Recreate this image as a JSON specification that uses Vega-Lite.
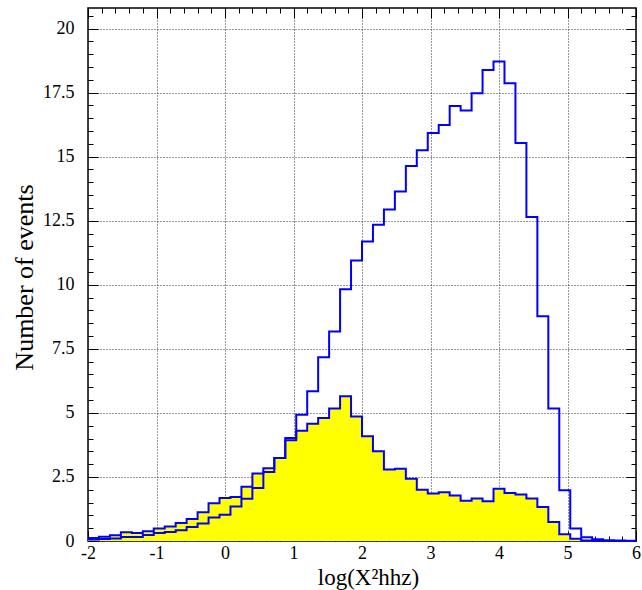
{
  "$schema": "https://vega.github.io/schema/vega-lite/v6.json",
  "width": 548,
  "height": 533,
  "autosize": "none",
  "padding": {"left": 88, "top": 8, "right": 6, "bottom": 49},
  "background": "white",
  "config": {
    "view": {"stroke": "black", "strokeWidth": 1.5},
    "font": "Liberation Serif",
    "axis": {"domain": false, "labelFont": "Liberation Serif", "titleFont": "Liberation Serif", "labelColor": "black", "titleColor": "black", "tickColor": "black", "titleFontWeight": "normal", "labelFlush": false, "labelOverlap": false, "labelBound": false}
  },
  "data": {
    "values": [
      {"x": -2.0, "A": 0.06, "B": 0.12},
      {"x": -1.84, "A": 0.08, "B": 0.17},
      {"x": -1.68, "A": 0.10, "B": 0.22},
      {"x": -1.52, "A": 0.16, "B": 0.34},
      {"x": -1.36, "A": 0.16, "B": 0.31},
      {"x": -1.2, "A": 0.23, "B": 0.38},
      {"x": -1.04, "A": 0.31, "B": 0.49},
      {"x": -0.88, "A": 0.35, "B": 0.57},
      {"x": -0.72, "A": 0.42, "B": 0.70},
      {"x": -0.56, "A": 0.55, "B": 0.86},
      {"x": -0.4, "A": 0.68, "B": 1.12},
      {"x": -0.24, "A": 0.92, "B": 1.47},
      {"x": -0.08, "A": 1.02, "B": 1.68},
      {"x": 0.08, "A": 1.35, "B": 1.72},
      {"x": 0.24, "A": 1.65, "B": 2.12},
      {"x": 0.4, "A": 2.07, "B": 2.63},
      {"x": 0.56, "A": 2.69, "B": 2.84},
      {"x": 0.72, "A": 3.24, "B": 3.24},
      {"x": 0.88, "A": 3.93, "B": 4.02},
      {"x": 1.04, "A": 4.93, "B": 4.30},
      {"x": 1.2, "A": 5.84, "B": 4.58},
      {"x": 1.36, "A": 7.17, "B": 4.80},
      {"x": 1.52, "A": 8.18, "B": 5.17},
      {"x": 1.68, "A": 9.82, "B": 5.65},
      {"x": 1.84, "A": 10.95, "B": 4.86},
      {"x": 2.0, "A": 11.69, "B": 4.09},
      {"x": 2.16, "A": 12.34, "B": 3.50},
      {"x": 2.32, "A": 12.94, "B": 2.79},
      {"x": 2.48, "A": 13.64, "B": 2.82},
      {"x": 2.64, "A": 14.63, "B": 2.43},
      {"x": 2.8, "A": 15.25, "B": 2.00},
      {"x": 2.96, "A": 15.92, "B": 1.85},
      {"x": 3.12, "A": 16.23, "B": 1.90},
      {"x": 3.28, "A": 16.98, "B": 1.78},
      {"x": 3.44, "A": 16.80, "B": 1.57},
      {"x": 3.6, "A": 17.47, "B": 1.66},
      {"x": 3.76, "A": 18.38, "B": 1.55},
      {"x": 3.92, "A": 18.71, "B": 2.04},
      {"x": 4.08, "A": 17.86, "B": 1.87},
      {"x": 4.24, "A": 15.53, "B": 1.81},
      {"x": 4.4, "A": 12.64, "B": 1.66},
      {"x": 4.56, "A": 8.77, "B": 1.33},
      {"x": 4.72, "A": 5.17, "B": 0.74},
      {"x": 4.88, "A": 1.98, "B": 0.26},
      {"x": 5.04, "A": 0.49, "B": 0.09},
      {"x": 5.2, "A": 0.15, "B": 0.02},
      {"x": 5.36, "A": 0.07, "B": 0.01},
      {"x": 5.52, "A": 0.03, "B": 0.0},
      {"x": 5.68, "A": 0.02, "B": 0.0},
      {"x": 5.84, "A": 0.01, "B": 0.0},
      {"x": 6.0, "A": 0.01, "B": 0.0}
    ]
  },
  "layer": [
    {
      "mark": {"type": "area", "interpolate": "step-after", "color": "#ffff00", "opacity": 1},
      "encoding": {
        "x": {
          "field": "x", "type": "quantitative",
          "scale": {"domain": [-2, 6], "nice": false, "zero": false},
          "axis": {
            "orient": "bottom",
            "title": "log(X²hhz)",
            "titleFontSize": 23,
            "titleX": 280, "titleY": 43, "titleAlign": "center", "titleBaseline": "alphabetic",
            "values": [-2,-1.8,-1.6,-1.4,-1.2,-1,-0.8,-0.6,-0.4,-0.2,0,0.2,0.4,0.6,0.8,1,1.2,1.4,1.6,1.8,2,2.2,2.4,2.6,2.8,3,3.2,3.4,3.6,3.8,4,4.2,4.4,4.6,4.8,5,5.2,5.4,5.6,5.8,6],
            "labelExpr": "abs(datum.value - round(datum.value)) < 0.001 ? '' + round(datum.value) : ''",
            "labelFontSize": 18,
            "labelPadding": 13,
            "tickSize": {"condition": {"test": "abs(datum.value - round(datum.value)) < 0.001", "value": -10}, "value": -5},
            "grid": true,
            "gridColor": "#333333",
            "gridDash": [1, 2],
            "gridOpacity": {"condition": {"test": "abs(datum.value - round(datum.value)) < 0.001", "value": 1}, "value": 0}
          }
        },
        "y": {
          "field": "B", "type": "quantitative",
          "scale": {"domain": [0, 20.8], "nice": false},
          "axis": {
            "orient": "left",
            "title": "Number of events",
            "titleFontSize": 26,
            "titleX": -64, "titleY": 269, "titleAngle": -90, "titleAlign": "center", "titleBaseline": "middle",
            "values": [0,0.5,1,1.5,2,2.5,3,3.5,4,4.5,5,5.5,6,6.5,7,7.5,8,8.5,9,9.5,10,10.5,11,11.5,12,12.5,13,13.5,14,14.5,15,15.5,16,16.5,17,17.5,18,18.5,19,19.5,20,20.5],
            "labelExpr": "abs(datum.value/2.5 - round(datum.value/2.5)) < 0.001 ? '' + datum.value : ''",
            "labelFontSize": 18,
            "labelPadding": 24,
            "tickSize": {"condition": {"test": "abs(datum.value/2.5 - round(datum.value/2.5)) < 0.001", "value": -10}, "value": -5},
            "grid": true,
            "gridColor": "#333333",
            "gridDash": [1, 2],
            "gridOpacity": {"condition": {"test": "abs(datum.value/2.5 - round(datum.value/2.5)) < 0.001", "value": 1}, "value": 0}
          }
        }
      }
    },
    {
      "mark": {"type": "line", "interpolate": "step-after", "color": "#0000ff", "strokeWidth": 2},
      "encoding": {
        "x": {"field": "x", "type": "quantitative", "axis": null},
        "y": {"field": "B", "type": "quantitative", "axis": null}
      }
    },
    {
      "mark": {"type": "line", "interpolate": "step-after", "color": "#0000ff", "strokeWidth": 2},
      "encoding": {
        "x": {
          "field": "x", "type": "quantitative",
          "axis": {
            "orient": "top", "title": null, "labels": false, "grid": false,
            "values": [-2,-1.8,-1.6,-1.4,-1.2,-1,-0.8,-0.6,-0.4,-0.2,0,0.2,0.4,0.6,0.8,1,1.2,1.4,1.6,1.8,2,2.2,2.4,2.6,2.8,3,3.2,3.4,3.6,3.8,4,4.2,4.4,4.6,4.8,5,5.2,5.4,5.6,5.8,6],
            "tickSize": {"condition": {"test": "abs(datum.value - round(datum.value)) < 0.001", "value": -10}, "value": -5}
          }
        },
        "y": {
          "field": "A", "type": "quantitative",
          "axis": {
            "orient": "right", "title": null, "labels": false, "grid": false,
            "values": [0,0.5,1,1.5,2,2.5,3,3.5,4,4.5,5,5.5,6,6.5,7,7.5,8,8.5,9,9.5,10,10.5,11,11.5,12,12.5,13,13.5,14,14.5,15,15.5,16,16.5,17,17.5,18,18.5,19,19.5,20,20.5],
            "tickSize": {"condition": {"test": "abs(datum.value/2.5 - round(datum.value/2.5)) < 0.001", "value": -10}, "value": -5}
          }
        }
      }
    }
  ],
  "resolve": {"axis": {"x": "independent", "y": "independent"}}
}
